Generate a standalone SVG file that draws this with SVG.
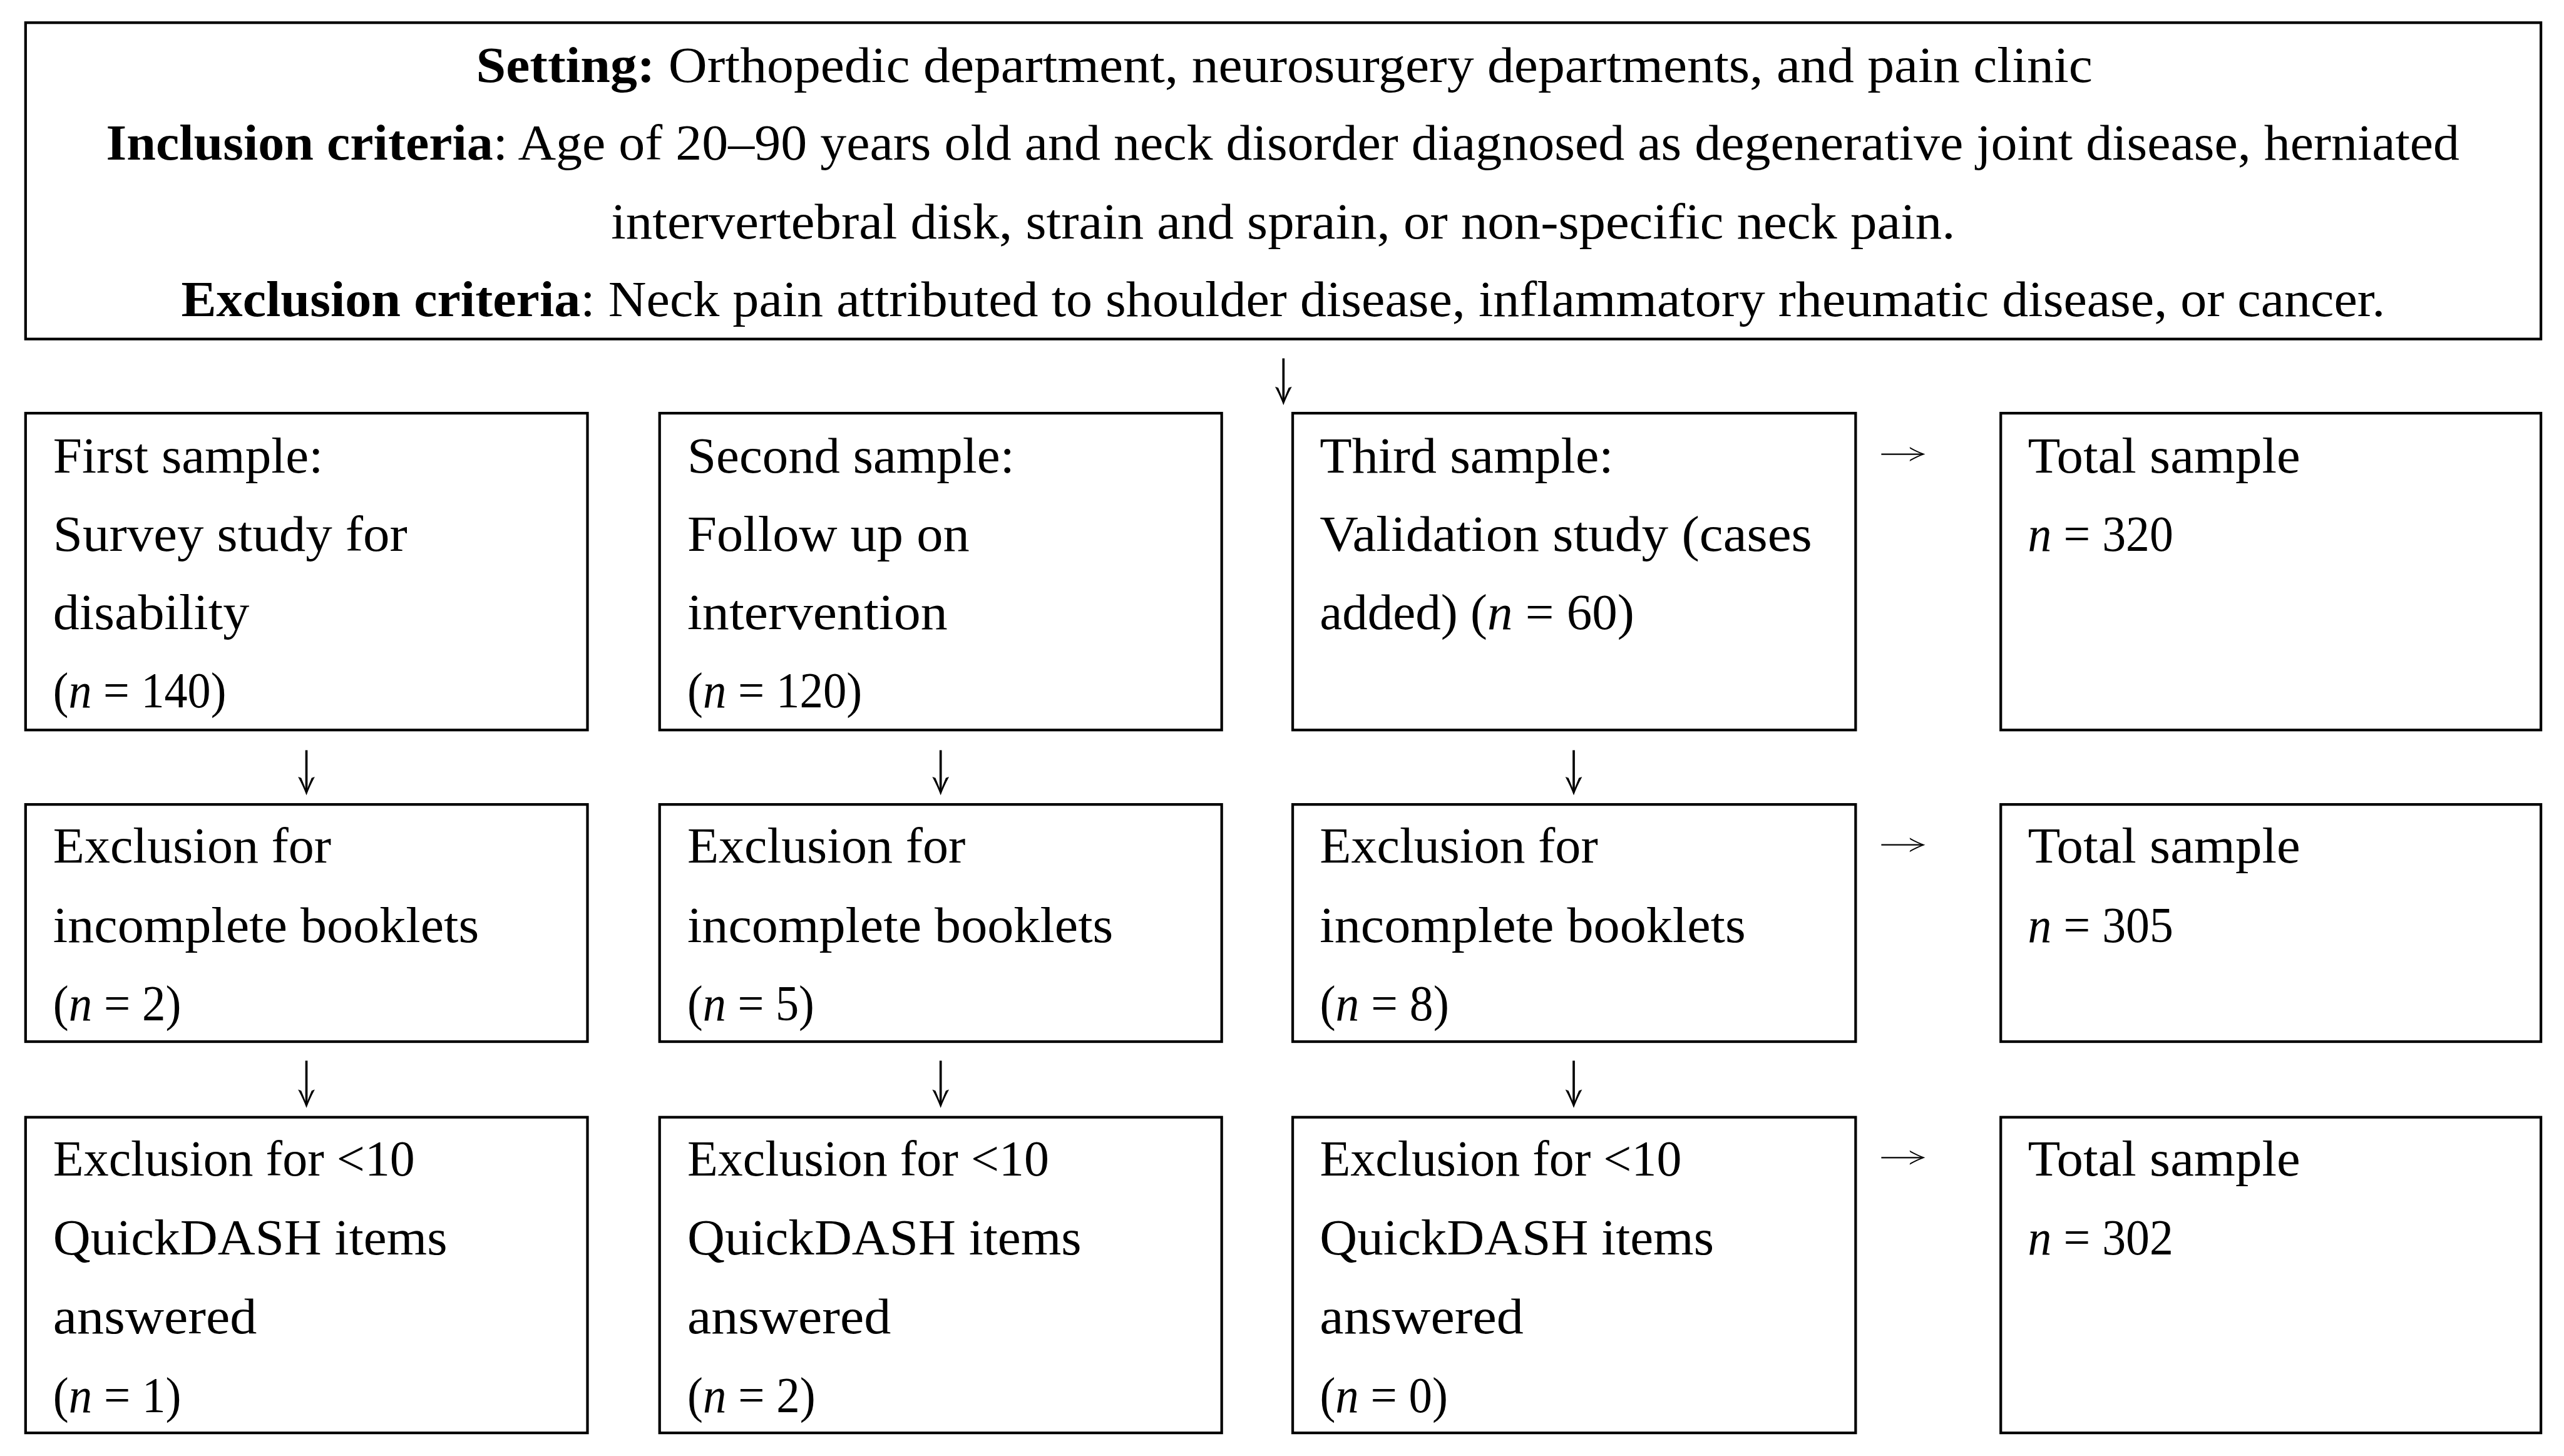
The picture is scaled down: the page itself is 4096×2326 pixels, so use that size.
<svg xmlns="http://www.w3.org/2000/svg" width="4096" height="2326" viewBox="0 0 4096 2326">
<style>
.box{fill:#fff;stroke:#000;stroke-width:4.6}
.t{font-family:"Liberation Serif","Times New Roman",serif;font-size:88px;fill:#000}
.b{font-weight:bold}
.i{font-style:italic}
.sd{fill:none;stroke:#000;stroke-width:4}
.sr{fill:none;stroke:#000;stroke-width:2.4}
</style>
<defs>
<marker id="ad" markerUnits="userSpaceOnUse" markerWidth="40" markerHeight="34" viewBox="-36 -17 38 34" refX="-6" refY="0" orient="auto" overflow="visible">
<path d="M0,0 Q-14,-5 -32,-14.5 L-30,-9 Q-16,-3 -7,0 Q-16,3 -30,9 L-32,14.5 Q-14,5 0,0 Z" fill="#000"/>
</marker>
<marker id="ar" markerUnits="userSpaceOnUse" markerWidth="32" markerHeight="30" viewBox="-30 -15 32 30" refX="-4" refY="0" orient="auto" overflow="visible">
<path d="M0,0 Q-12,-4 -27,-12.5 L-26,-9.5 Q-14,-3 -5,0 Q-14,3 -26,9.5 L-27,12.5 Q-12,4 0,0 Z" fill="#000"/>
</marker>
</defs>
<rect width="4096" height="2326" fill="#fff"/>
<g transform="scale(0.9219)">
<g id="connectors">
<line class="sd" x1="2224" y1="621" x2="2224" y2="696" marker-end="url(#ad)"/>
<line class="sd" x1="531" y1="1300" x2="531" y2="1372" marker-end="url(#ad)"/>
<line class="sd" x1="1630" y1="1300" x2="1630" y2="1372" marker-end="url(#ad)"/>
<line class="sd" x1="2727" y1="1300" x2="2727" y2="1372" marker-end="url(#ad)"/>
<line class="sd" x1="531" y1="1838" x2="531" y2="1914" marker-end="url(#ad)"/>
<line class="sd" x1="1630" y1="1838" x2="1630" y2="1914" marker-end="url(#ad)"/>
<line class="sd" x1="2727" y1="1838" x2="2727" y2="1914" marker-end="url(#ad)"/>
<line class="sr" x1="3260" y1="787" x2="3332" y2="787" marker-end="url(#ar)"/>
<line class="sr" x1="3260" y1="1464" x2="3332" y2="1464" marker-end="url(#ar)"/>
<line class="sr" x1="3260" y1="2006" x2="3332" y2="2006" marker-end="url(#ar)"/>
</g>
<g id="criteria">
<rect class="box" x="44.3" y="39.3" width="4358.7" height="548.2"/>
<text class="t" x="825" y="142" textLength="2801" lengthAdjust="spacingAndGlyphs"><tspan class="b">Setting:</tspan> Orthopedic department, neurosurgery departments, and pain clinic</text>
<text class="t" x="184" y="277" textLength="4078" lengthAdjust="spacingAndGlyphs"><tspan class="b">Inclusion criteria</tspan>: Age of 20–90 years old and neck disorder diagnosed as degenerative joint disease, herniated</text>
<text class="t" x="1059" y="413" textLength="2329" lengthAdjust="spacingAndGlyphs">intervertebral disk, strain and sprain, or non-specific neck pain.</text>
<text class="t" x="314" y="548" textLength="3819" lengthAdjust="spacingAndGlyphs"><tspan class="b">Exclusion criteria</tspan>: Neck pain attributed to shoulder disease, inflammatory rheumatic disease, or cancer.</text>
</g>
<g id="sample1">
<rect class="box" x="44.3" y="716" width="973.7" height="549"/>
<text class="t" x="92" y="819" textLength="468" lengthAdjust="spacingAndGlyphs">First sample:</text>
<text class="t" x="92" y="955" textLength="614" lengthAdjust="spacingAndGlyphs">Survey study for</text>
<text class="t" x="92" y="1090" textLength="340" lengthAdjust="spacingAndGlyphs">disability</text>
<text class="t" x="92" y="1226" textLength="300" lengthAdjust="spacingAndGlyphs">(<tspan class="i">n</tspan> = 140)</text>
</g>
<g id="sample2">
<rect class="box" x="1143" y="716" width="974" height="549"/>
<text class="t" x="1191" y="819" textLength="567" lengthAdjust="spacingAndGlyphs">Second sample:</text>
<text class="t" x="1191" y="955" textLength="489" lengthAdjust="spacingAndGlyphs">Follow up on</text>
<text class="t" x="1191" y="1090" textLength="451" lengthAdjust="spacingAndGlyphs">intervention</text>
<text class="t" x="1191" y="1226" textLength="303" lengthAdjust="spacingAndGlyphs">(<tspan class="i">n</tspan> = 120)</text>
</g>
<g id="sample3">
<rect class="box" x="2240" y="716" width="975.5" height="549"/>
<text class="t" x="2287" y="819" textLength="509" lengthAdjust="spacingAndGlyphs">Third sample:</text>
<text class="t" x="2287" y="955" textLength="853" lengthAdjust="spacingAndGlyphs">Validation study (cases</text>
<text class="t" x="2287" y="1090" textLength="545" lengthAdjust="spacingAndGlyphs">added) (<tspan class="i">n</tspan> = 60)</text>
</g>
<g id="total1">
<rect class="box" x="3467" y="716" width="936" height="549"/>
<text class="t" x="3514" y="819" textLength="472" lengthAdjust="spacingAndGlyphs">Total sample</text>
<text class="t" x="3514" y="955" textLength="252" lengthAdjust="spacingAndGlyphs"><tspan class="i">n</tspan> = 320</text>
</g>
<g id="excl1a">
<rect class="box" x="44.3" y="1394" width="973.7" height="411"/>
<text class="t" x="92" y="1495" textLength="482" lengthAdjust="spacingAndGlyphs">Exclusion for</text>
<text class="t" x="92" y="1632" textLength="738" lengthAdjust="spacingAndGlyphs">incomplete booklets</text>
<text class="t" x="92" y="1768" textLength="222" lengthAdjust="spacingAndGlyphs">(<tspan class="i">n</tspan> = 2)</text>
</g>
<g id="excl2a">
<rect class="box" x="1143" y="1394" width="974" height="411"/>
<text class="t" x="1191" y="1495" textLength="482" lengthAdjust="spacingAndGlyphs">Exclusion for</text>
<text class="t" x="1191" y="1632" textLength="738" lengthAdjust="spacingAndGlyphs">incomplete booklets</text>
<text class="t" x="1191" y="1768" textLength="220" lengthAdjust="spacingAndGlyphs">(<tspan class="i">n</tspan> = 5)</text>
</g>
<g id="excl3a">
<rect class="box" x="2240" y="1394" width="975.5" height="411"/>
<text class="t" x="2287" y="1495" textLength="482" lengthAdjust="spacingAndGlyphs">Exclusion for</text>
<text class="t" x="2287" y="1632" textLength="738" lengthAdjust="spacingAndGlyphs">incomplete booklets</text>
<text class="t" x="2287" y="1768" textLength="224" lengthAdjust="spacingAndGlyphs">(<tspan class="i">n</tspan> = 8)</text>
</g>
<g id="total2">
<rect class="box" x="3467" y="1394" width="936" height="411"/>
<text class="t" x="3514" y="1495" textLength="472" lengthAdjust="spacingAndGlyphs">Total sample</text>
<text class="t" x="3514" y="1632" textLength="252" lengthAdjust="spacingAndGlyphs"><tspan class="i">n</tspan> = 305</text>
</g>
<g id="excl1b">
<rect class="box" x="44.3" y="1936" width="973.7" height="547"/>
<text class="t" x="92" y="2037" textLength="627" lengthAdjust="spacingAndGlyphs">Exclusion for &lt;10</text>
<text class="t" x="92" y="2174" textLength="683" lengthAdjust="spacingAndGlyphs">QuickDASH items</text>
<text class="t" x="92" y="2310" textLength="353" lengthAdjust="spacingAndGlyphs">answered</text>
<text class="t" x="92" y="2447" textLength="222" lengthAdjust="spacingAndGlyphs">(<tspan class="i">n</tspan> = 1)</text>
</g>
<g id="excl2b">
<rect class="box" x="1143" y="1936" width="974" height="547"/>
<text class="t" x="1191" y="2037" textLength="627" lengthAdjust="spacingAndGlyphs">Exclusion for &lt;10</text>
<text class="t" x="1191" y="2174" textLength="683" lengthAdjust="spacingAndGlyphs">QuickDASH items</text>
<text class="t" x="1191" y="2310" textLength="353" lengthAdjust="spacingAndGlyphs">answered</text>
<text class="t" x="1191" y="2447" textLength="222" lengthAdjust="spacingAndGlyphs">(<tspan class="i">n</tspan> = 2)</text>
</g>
<g id="excl3b">
<rect class="box" x="2240" y="1936" width="975.5" height="547"/>
<text class="t" x="2287" y="2037" textLength="627" lengthAdjust="spacingAndGlyphs">Exclusion for &lt;10</text>
<text class="t" x="2287" y="2174" textLength="683" lengthAdjust="spacingAndGlyphs">QuickDASH items</text>
<text class="t" x="2287" y="2310" textLength="353" lengthAdjust="spacingAndGlyphs">answered</text>
<text class="t" x="2287" y="2447" textLength="222" lengthAdjust="spacingAndGlyphs">(<tspan class="i">n</tspan> = 0)</text>
</g>
<g id="total3">
<rect class="box" x="3467" y="1936" width="936" height="547"/>
<text class="t" x="3514" y="2037" textLength="472" lengthAdjust="spacingAndGlyphs">Total sample</text>
<text class="t" x="3514" y="2174" textLength="252" lengthAdjust="spacingAndGlyphs"><tspan class="i">n</tspan> = 302</text>
</g>
</g>
</svg>
